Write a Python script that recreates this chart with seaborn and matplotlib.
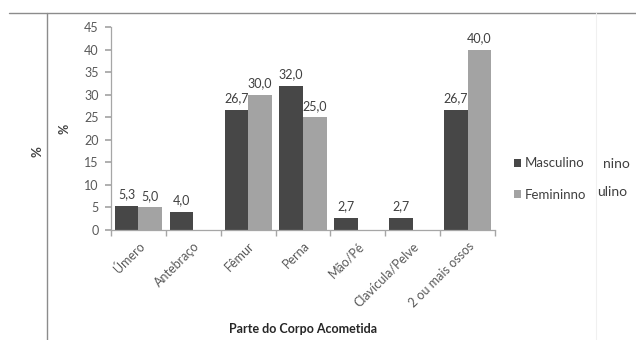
import numpy as np
import pandas as pd
import matplotlib
matplotlib.use("Agg")
import matplotlib.pyplot as plt
from matplotlib.lines import Line2D
import seaborn as sns

# ---- data ----
categories = ["Úmero", "Antebraço", "Fêmur", "Perna", "Mão/Pé", "Clavícula/Pelve", "2 ou mais ossos"]
masculino = [5.3, 4.0, 26.7, 32.0, 2.7, 2.7, 26.7]
feminino = [5.0, np.nan, 30.0, 25.0, np.nan, np.nan, 40.0]
series_names = ["Masculino", "Femininno"]
y_ticks = [0, 5, 10, 15, 20, 25, 30, 35, 40, 45]
x_title = "Parte do Corpo Acometida"
y_title = "%"

df = pd.DataFrame({
    "Parte": categories * 2,
    "Sexo": [series_names[0]] * len(categories) + [series_names[1]] * len(categories),
    "Valor": masculino + feminino,
})

sns.set_theme(style="white")
plt.rcParams["font.family"] = ["Lato", "DejaVu Sans"]

fig = plt.figure(figsize=(6.36, 3.40), dpi=100)
ax = fig.add_axes([111 / 636, 1 - 230 / 340, (495 - 111) / 636, (230 - 27) / 340])

palette = {series_names[0]: "#474747", series_names[1]: "#a3a3a3"}
sns.barplot(data=df, x="Parte", y="Valor", hue="Sexo", order=categories,
            hue_order=series_names, palette=palette, width=0.86,
            linewidth=0, saturation=1, ax=ax, legend=True)

ax.set_ylim(0, 45)
ax.set_xlim(-0.5, len(categories) - 0.5)
ax.set_yticks(y_ticks)
ax.set_yticklabels([str(v) for v in y_ticks], fontsize=9, color="#595959")

# x ticks: labels at centers, tick marks at boundaries
ax.set_xticks(range(len(categories)))
ax.set_xticklabels(categories, rotation=45, ha="right", rotation_mode="anchor",
                   fontsize=9, color="#595959")
ax.tick_params(axis="x", which="major", length=0, pad=7)
ax.set_xticks(np.arange(-0.5, len(categories), 1.0), minor=True)
ax.tick_params(axis="x", which="minor", length=4, color="#a6a6a6", direction="out", bottom=True)
ax.tick_params(axis="y", length=4, color="#a6a6a6", direction="out", left=True, pad=5)

for s in ["top", "right"]:
    ax.spines[s].set_visible(False)
for s in ["left", "bottom"]:
    ax.spines[s].set_color("#a6a6a6")
    ax.spines[s].set_linewidth(0.9)

ax.set_xlabel(x_title, fontsize=9, color="#262626", fontweight="bold")
ax.xaxis.set_label_coords(0.5, -0.46)
ax.set_ylabel(y_title, fontsize=9, color="#404040", fontweight="bold")
ax.yaxis.set_label_coords(-0.105, 0.5)

# value labels
for cont in ax.containers:
    labels = [(f"{v:.1f}".replace(".", ",") if np.isfinite(v) and v > 0 else "")
              for v in cont.datavalues]
    ax.bar_label(cont, labels=labels, padding=4, fontsize=9, color="#404040")

# legend
handles, labels = ax.get_legend_handles_labels()
ax.legend(handles, labels, loc="center left", bbox_to_anchor=(514 / 636, 1 - 179 / 340),
          bbox_transform=fig.transFigure, frameon=False, fontsize=9.5,
          handlelength=0.55, handleheight=0.55, handletextpad=0.3,
          labelspacing=1.45, borderpad=0, borderaxespad=0, labelcolor="#404040")

# surrounding page artifacts
fig.add_artist(Line2D([9 / 636, 1.0], [1 - 13 / 340] * 2, color="#8c8c8c", lw=1.0))
fig.add_artist(Line2D([47 / 636] * 2, [1 - 13 / 340, 0.0], color="#8c8c8c", lw=1.0))
fig.add_artist(Line2D([596 / 636] * 2, [1 - 13 / 340, 0.0], color="#f0f0f0", lw=0.8))
fig.text(37 / 636, 1 - 152 / 340, "%", rotation=90, ha="center", va="center",
         fontsize=9.5, fontweight="bold", color="#404040")
fig.text(603 / 636, 1 - 164 / 340, "nino", ha="left", va="center", fontsize=10, color="#404040")
fig.text(597 / 636, 1 - 192 / 340, "ulino", ha="left", va="center", fontsize=10, color="#404040")

fig.savefig("out.png", dpi=100)
